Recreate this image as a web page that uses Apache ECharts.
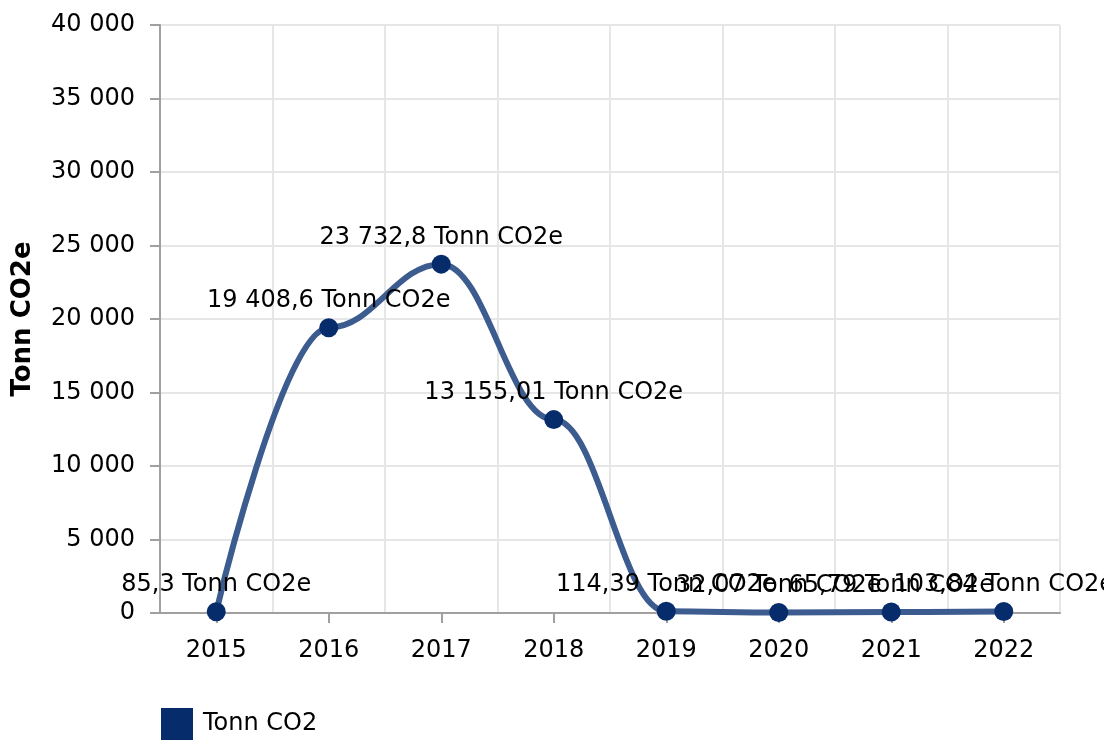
<!DOCTYPE html>
<html lang="en">
<head>
    <meta charset="UTF-8">
    <title>Tonn CO2</title>
    <script src="https://cdn.jsdelivr.net/npm/echarts@6/dist/echarts.min.js"></script>
    <style>
html, body {
    margin: 0;
    padding: 0;
    background: #fff;
}
#main {
    width: 1104px;
    height: 740px;
}
    </style>
</head>
<body>
<div id="main"></div>
<script type="text/javascript">
    var years = ['2015', '2016', '2017', '2018', '2019', '2020', '2021', '2022'];
    var values = [85.3, 19408.6, 23732.8, 13155.01, 114.39, 32.07, 65.79, 103.84];
    var seriesName = 'Tonn CO2';
    var unit = 'Tonn CO2e';

    // norsk tallformat: mellomrom som tusenskille, komma som desimal
    function fmt(v) {
        var parts = String(v).split('.');
        var whole = parts[0].replace(/\B(?=(\d{3})+(?!\d))/g, ' ');
        return parts.length > 1 ? whole + ',' + parts[1] : whole;
    }

    var font = 'DejaVu Sans';
    var myChart = echarts.init(document.getElementById('main'));
    myChart.setOption({
        animation: false,
        textStyle: {fontFamily: font},
        grid: {
            left: 160,
            right: 44,
            top: 25,
            bottom: 127
        },
        legend: {
            left: 156,
            top: 703,
            itemWidth: 32,
            itemHeight: 32,
            icon: 'rect',
            textStyle: {fontSize: 24, color: '#000', fontFamily: font, padding: [8, 0, 0, 5]},
            data: [seriesName]
        },
        xAxis: {
            type: 'category',
            data: years,
            boundaryGap: true,
            axisLine: {lineStyle: {color: '#a0a0a0', width: 2}},
            axisTick: {show: true, alignWithLabel: true, length: 10, lineStyle: {color: '#a0a0a0', width: 2}},
            splitLine: {show: true, lineStyle: {color: '#e6e6e6', width: 2}},
            axisLabel: {color: '#000', fontSize: 24, margin: 26, fontFamily: font}
        },
        yAxis: {
            type: 'value',
            min: 0,
            max: 40000,
            interval: 5000,
            name: unit,
            nameLocation: 'middle',
            nameGap: 124,
            nameTextStyle: {fontSize: 26, fontWeight: 'bold', color: '#000', fontFamily: font},
            axisLine: {show: true, lineStyle: {color: '#a0a0a0', width: 2}},
            axisTick: {show: true, length: 10, lineStyle: {color: '#a0a0a0', width: 2}},
            splitLine: {lineStyle: {color: '#e6e6e6', width: 2}},
            axisLabel: {
                color: '#000',
                fontSize: 24,
                margin: 25,
                fontFamily: font,
                formatter: function (v) { return fmt(v); }
            }
        },
        series: [{
            name: seriesName,
            type: 'line',
            data: values,
            smooth: 0.4,
            smoothMonotone: 'x',
            symbol: 'circle',
            symbolSize: 19,
            itemStyle: {color: '#062c6b'},
            lineStyle: {color: '#3c5b8e', width: 6},
            label: {
                show: true,
                position: 'top',
                distance: 5,
                color: '#000',
                fontSize: 24,
                fontFamily: font,
                formatter: function (p) { return fmt(p.value) + ' ' + unit; }
            }
        }]
    });
</script>
</body>
</html>
